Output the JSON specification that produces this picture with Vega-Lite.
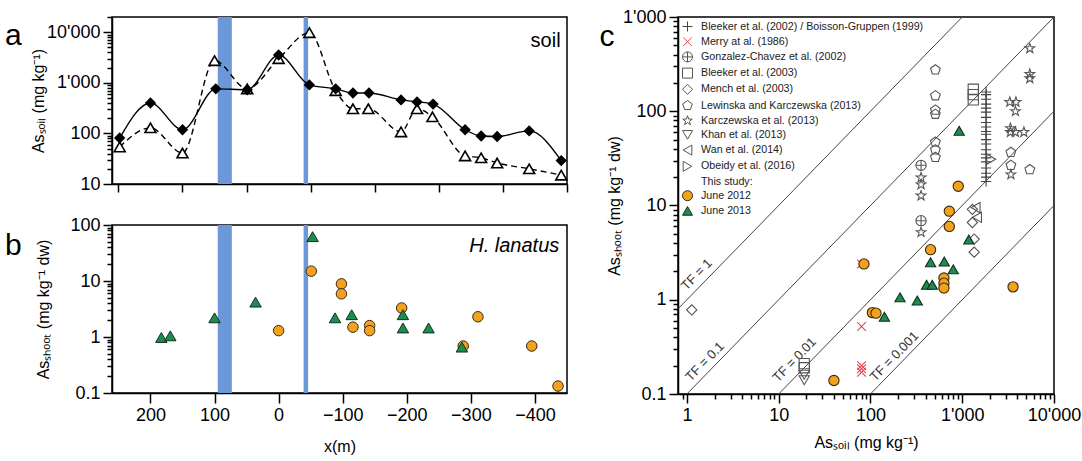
{
"$schema": "https://vega.github.io/schema/vega-lite/v6.json",
"background": "white",
"padding": {"left": 4, "top": 7, "right": 5, "bottom": 3},
"config": {
  "font": "Liberation Sans",
  "view": {"stroke": "black", "strokeWidth": 1.5},
  "axis": {"domainColor": "black", "domainWidth": 1.5, "tickColor": "black", "tickWidth": 1.5, "labelColor": "black", "labelFontSize": 18, "labelFont": "Liberation Sans", "titleFont": "Liberation Sans", "titleFontSize": 16, "titleFontWeight": "normal", "titleColor": "black", "grid": false, "labelOverlap": false, "labelFlush": false, "labelPadding": 3},
  "legend": {"orient": "top-left", "offset": 4, "padding": 0, "labelFontSize": 10.7, "labelFont": "Liberation Sans", "labelColor": "#222", "symbolSize": 100, "rowPadding": 1.2, "labelOffset": 8, "symbolStrokeWidth": 1, "labelLimit": 400}
},
"datasets": {
  "bands": [{"from": 95, "to": 73}, {"from": -39, "to": -46}],
  "soil": [
    {"x": 248, "as": 81, "series": "2012"}, {"x": 200, "as": 400, "series": "2012"}, {"x": 150, "as": 118, "series": "2012"}, {"x": 98, "as": 760, "series": "2012"}, {"x": 49, "as": 730, "series": "2012"}, {"x": 0, "as": 3550, "series": "2012"}, {"x": -48, "as": 910, "series": "2012"}, {"x": -89, "as": 760, "series": "2012"}, {"x": -116, "as": 630, "series": "2012"}, {"x": -141, "as": 630, "series": "2012"}, {"x": -191, "as": 460, "series": "2012"}, {"x": -216, "as": 420, "series": "2012"}, {"x": -241, "as": 380, "series": "2012"}, {"x": -291, "as": 118, "series": "2012"}, {"x": -316, "as": 89, "series": "2012"}, {"x": -341, "as": 87, "series": "2012"}, {"x": -391, "as": 112, "series": "2012"}, {"x": -441, "as": 29, "series": "2012"},
    {"x": 248, "as": 54, "series": "2013"}, {"x": 200, "as": 129, "series": "2013"}, {"x": 150, "as": 41, "series": "2013"}, {"x": 100, "as": 2750, "series": "2013"}, {"x": 49, "as": 760, "series": "2013"}, {"x": 0, "as": 3000, "series": "2013"}, {"x": -48, "as": 9800, "series": "2013"}, {"x": -89, "as": 700, "series": "2013"}, {"x": -116, "as": 307, "series": "2013"}, {"x": -140, "as": 307, "series": "2013"}, {"x": -191, "as": 107, "series": "2013"}, {"x": -216, "as": 307, "series": "2013"}, {"x": -240, "as": 213, "series": "2013"}, {"x": -291, "as": 36, "series": "2013"}, {"x": -316, "as": 33, "series": "2013"}, {"x": -341, "as": 26, "series": "2013"}, {"x": -391, "as": 20, "series": "2013"}, {"x": -441, "as": 15, "series": "2013"}
  ],
  "shoot": [
    {"x": 0, "as": 1.3, "yr": "2012"}, {"x": -51, "as": 15, "yr": "2012"}, {"x": -98, "as": 8.9, "yr": "2012"}, {"x": -98, "as": 5.9, "yr": "2012"}, {"x": -116, "as": 1.5, "yr": "2012"}, {"x": -142, "as": 1.6, "yr": "2012"}, {"x": -142, "as": 1.3, "yr": "2012"}, {"x": -192, "as": 3.3, "yr": "2012"}, {"x": -288, "as": 0.69, "yr": "2012"}, {"x": -311, "as": 2.3, "yr": "2012"}, {"x": -395, "as": 0.69, "yr": "2012"}, {"x": -436, "as": 0.133, "yr": "2012"},
    {"x": 183, "as": 0.98, "yr": "2013"}, {"x": 169, "as": 1.05, "yr": "2013"}, {"x": 100, "as": 2.2, "yr": "2013"}, {"x": 36, "as": 4.2, "yr": "2013"}, {"x": -53, "as": 62, "yr": "2013"}, {"x": -88, "as": 2.2, "yr": "2013"}, {"x": -114, "as": 2.5, "yr": "2013"}, {"x": -194, "as": 2.5, "yr": "2013"}, {"x": -194, "as": 1.45, "yr": "2013"}, {"x": -234, "as": 1.45, "yr": "2013"}, {"x": -286, "as": 0.66, "yr": "2013"}
  ],
  "tflines": [
    {"tf": "1", "x": 0.8, "y": 0.8}, {"tf": "1", "x": 1000, "y": 1000},
    {"tf": "0.1", "x": 1, "y": 0.1}, {"tf": "0.1", "x": 10000, "y": 1000},
    {"tf": "0.01", "x": 10, "y": 0.1}, {"tf": "0.01", "x": 10000, "y": 100},
    {"tf": "0.001", "x": 100, "y": 0.1}, {"tf": "0.001", "x": 10000, "y": 10}
  ],
  "tflabels": [
    {"label": "TF = 1", "x": 1.28, "y": 1.85},
    {"label": "TF = 0.1", "x": 1.57, "y": 0.22},
    {"label": "TF = 0.01", "x": 14.9, "y": 0.23},
    {"label": "TF = 0.001", "x": 182, "y": 0.25}
  ],
  "tf": [
    {"src": "Bleeker et al. (2002) / Boisson-Gruppen (1999)", "soil": 1820, "shoot": 160},
    {"src": "Bleeker et al. (2002) / Boisson-Gruppen (1999)", "soil": 1820, "shoot": 150},
    {"src": "Bleeker et al. (2002) / Boisson-Gruppen (1999)", "soil": 1820, "shoot": 134},
    {"src": "Bleeker et al. (2002) / Boisson-Gruppen (1999)", "soil": 1820, "shoot": 119},
    {"src": "Bleeker et al. (2002) / Boisson-Gruppen (1999)", "soil": 1820, "shoot": 108},
    {"src": "Bleeker et al. (2002) / Boisson-Gruppen (1999)", "soil": 1820, "shoot": 98},
    {"src": "Bleeker et al. (2002) / Boisson-Gruppen (1999)", "soil": 1820, "shoot": 86},
    {"src": "Bleeker et al. (2002) / Boisson-Gruppen (1999)", "soil": 1820, "shoot": 76},
    {"src": "Bleeker et al. (2002) / Boisson-Gruppen (1999)", "soil": 1820, "shoot": 68},
    {"src": "Bleeker et al. (2002) / Boisson-Gruppen (1999)", "soil": 1820, "shoot": 61},
    {"src": "Bleeker et al. (2002) / Boisson-Gruppen (1999)", "soil": 1820, "shoot": 57},
    {"src": "Bleeker et al. (2002) / Boisson-Gruppen (1999)", "soil": 1820, "shoot": 50},
    {"src": "Bleeker et al. (2002) / Boisson-Gruppen (1999)", "soil": 1820, "shoot": 45},
    {"src": "Bleeker et al. (2002) / Boisson-Gruppen (1999)", "soil": 1820, "shoot": 39},
    {"src": "Bleeker et al. (2002) / Boisson-Gruppen (1999)", "soil": 1820, "shoot": 35},
    {"src": "Bleeker et al. (2002) / Boisson-Gruppen (1999)", "soil": 1820, "shoot": 32},
    {"src": "Bleeker et al. (2002) / Boisson-Gruppen (1999)", "soil": 1820, "shoot": 29},
    {"src": "Bleeker et al. (2002) / Boisson-Gruppen (1999)", "soil": 1820, "shoot": 25},
    {"src": "Bleeker et al. (2002) / Boisson-Gruppen (1999)", "soil": 1820, "shoot": 22},
    {"src": "Bleeker et al. (2002) / Boisson-Gruppen (1999)", "soil": 1820, "shoot": 20},
    {"src": "Bleeker et al. (2002) / Boisson-Gruppen (1999)", "soil": 1820, "shoot": 18},
    {"src": "Merry at al. (1986)", "soil": 80, "shoot": 2.4},
    {"src": "Merry at al. (1986)", "soil": 80, "shoot": 0.52},
    {"src": "Merry at al. (1986)", "soil": 80, "shoot": 0.2},
    {"src": "Merry at al. (1986)", "soil": 80, "shoot": 0.185},
    {"src": "Merry at al. (1986)", "soil": 80, "shoot": 0.17},
    {"src": "Gonzalez-Chavez et al. (2002)", "soil": 356, "shoot": 26.7},
    {"src": "Gonzalez-Chavez et al. (2002)", "soil": 356, "shoot": 6.9},
    {"src": "Bleeker et al. (2003)", "soil": 1320, "shoot": 171},
    {"src": "Bleeker et al. (2003)", "soil": 1320, "shoot": 150},
    {"src": "Bleeker et al. (2003)", "soil": 1320, "shoot": 132},
    {"src": "Bleeker et al. (2003)", "soil": 19, "shoot": 0.21},
    {"src": "Bleeker et al. (2003)", "soil": 19, "shoot": 0.19},
    {"src": "Mench et al. (2003)", "soil": 1.13, "shoot": 0.78},
    {"src": "Mench et al. (2003)", "soil": 1290, "shoot": 9.1},
    {"src": "Mench et al. (2003)", "soil": 1290, "shoot": 6.6},
    {"src": "Mench et al. (2003)", "soil": 1350, "shoot": 4.4},
    {"src": "Mench et al. (2003)", "soil": 1350, "shoot": 3.2},
    {"src": "Lewinska and Karczewska (2013)", "soil": 510, "shoot": 275},
    {"src": "Lewinska and Karczewska (2013)", "soil": 510, "shoot": 146},
    {"src": "Lewinska and Karczewska (2013)", "soil": 510, "shoot": 103},
    {"src": "Lewinska and Karczewska (2013)", "soil": 510, "shoot": 93},
    {"src": "Lewinska and Karczewska (2013)", "soil": 510, "shoot": 47},
    {"src": "Lewinska and Karczewska (2013)", "soil": 510, "shoot": 39},
    {"src": "Lewinska and Karczewska (2013)", "soil": 510, "shoot": 32.4},
    {"src": "Lewinska and Karczewska (2013)", "soil": 3390, "shoot": 36.6},
    {"src": "Lewinska and Karczewska (2013)", "soil": 3390, "shoot": 26.7},
    {"src": "Lewinska and Karczewska (2013)", "soil": 5450, "shoot": 24},
    {"src": "Karczewska et al. (2013)", "soil": 5450, "shoot": 464},
    {"src": "Karczewska et al. (2013)", "soil": 5450, "shoot": 248},
    {"src": "Karczewska et al. (2013)", "soil": 5450, "shoot": 223},
    {"src": "Karczewska et al. (2013)", "soil": 3300, "shoot": 125},
    {"src": "Karczewska et al. (2013)", "soil": 3850, "shoot": 125},
    {"src": "Karczewska et al. (2013)", "soil": 3800, "shoot": 100},
    {"src": "Karczewska et al. (2013)", "soil": 3350, "shoot": 66},
    {"src": "Karczewska et al. (2013)", "soil": 3350, "shoot": 60},
    {"src": "Karczewska et al. (2013)", "soil": 3800, "shoot": 60},
    {"src": "Karczewska et al. (2013)", "soil": 4700, "shoot": 60},
    {"src": "Karczewska et al. (2013)", "soil": 3390, "shoot": 21.3},
    {"src": "Karczewska et al. (2013)", "soil": 356, "shoot": 19.8},
    {"src": "Karczewska et al. (2013)", "soil": 356, "shoot": 16.7},
    {"src": "Karczewska et al. (2013)", "soil": 356, "shoot": 12.7},
    {"src": "Karczewska et al. (2013)", "soil": 356, "shoot": 5.2},
    {"src": "Khan et al. (2013)", "soil": 19, "shoot": 0.16},
    {"src": "Khan et al. (2013)", "soil": 19, "shoot": 0.14},
    {"src": "Wan et al. (2014)", "soil": 1400, "shoot": 9.5},
    {"src": "Wan et al. (2014)", "soil": 1450, "shoot": 7.5},
    {"src": "Obeidy et al. (2016)", "soil": 2070, "shoot": 31},
    {"src": "June 2012", "soil": 905, "shoot": 16},
    {"src": "June 2012", "soil": 723, "shoot": 8.7},
    {"src": "June 2012", "soil": 723, "shoot": 6.0},
    {"src": "June 2012", "soil": 452, "shoot": 3.4},
    {"src": "June 2012", "soil": 632, "shoot": 1.7},
    {"src": "June 2012", "soil": 632, "shoot": 1.5},
    {"src": "June 2012", "soil": 632, "shoot": 1.33},
    {"src": "June 2012", "soil": 3580, "shoot": 1.37},
    {"src": "June 2012", "soil": 85, "shoot": 2.4},
    {"src": "June 2012", "soil": 105, "shoot": 0.73},
    {"src": "June 2012", "soil": 115, "shoot": 0.72},
    {"src": "June 2012", "soil": 40, "shoot": 0.139},
    {"src": "June 2013", "soil": 927, "shoot": 62},
    {"src": "June 2013", "soil": 1180, "shoot": 4.35},
    {"src": "June 2013", "soil": 452, "shoot": 2.5},
    {"src": "June 2013", "soil": 637, "shoot": 2.55},
    {"src": "June 2013", "soil": 798, "shoot": 2.1},
    {"src": "June 2013", "soil": 409, "shoot": 1.44},
    {"src": "June 2013", "soil": 472, "shoot": 1.44},
    {"src": "June 2013", "soil": 210, "shoot": 1.06},
    {"src": "June 2013", "soil": 324, "shoot": 0.98},
    {"src": "June 2013", "soil": 142, "shoot": 0.66}
  ]
},
"resolve": {"scale": {"x": "independent", "y": "independent", "shape": "independent", "fill": "independent", "stroke": "independent"}, "legend": {"shape": "independent", "fill": "independent", "stroke": "independent"}},
"spacing": 27,
"hconcat": [
  {
    "spacing": 21,
    "resolve": {"scale": {"x": "independent", "y": "independent"}, "axis": {"x": "independent", "y": "independent"}},
    "vconcat": [
      {
        "width": 455, "height": 167,
        "layer": [
          {"data": {"name": "bands"}, "mark": {"type": "rect", "color": "#6C98DA", "opacity": 1},
           "encoding": {
             "x": {"field": "from", "type": "quantitative", "scale": {"domain": [260, -450], "nice": false, "zero": false},
                   "axis": {"title": null, "values": [250, 200, 150, 100, 50, 0, -50, -100, -150, -200, -250, -300, -350, -400, -450], "labels": false, "tickSize": 8}},
             "x2": {"field": "to"}}},
          {"data": {"name": "soil"}, "transform": [{"filter": "datum.series == '2013'"}],
           "mark": {"type": "line", "interpolate": "monotone", "color": "black", "strokeWidth": 1.4, "strokeDash": [6, 4]},
           "encoding": {"x": {"field": "x", "type": "quantitative"},
             "y": {"field": "as", "type": "quantitative", "scale": {"type": "log", "domain": [10, 20000], "nice": false},
                   "axis": {"title": "Asₛₒᵢₗ (mg kg⁻¹)", "titlePadding": 0, "values": [10, 20, 30, 40, 50, 60, 70, 80, 90, 100, 200, 300, 400, 500, 600, 700, 800, 900, 1000, 2000, 3000, 4000, 5000, 6000, 7000, 8000, 9000, 10000, 20000],
                            "labelExpr": "indexof([10,100,1000,10000], datum.value) >= 0 ? replace(format(datum.value, ','), ',', \"'\") : ''",
                            "tickSize": {"condition": {"test": "indexof([10,100,1000,10000], datum.value) >= 0", "value": 9}, "value": 5}}}}},
          {"data": {"name": "soil"}, "transform": [{"filter": "datum.series == '2012'"}],
           "mark": {"type": "line", "interpolate": "monotone", "color": "black", "strokeWidth": 1.4},
           "encoding": {"x": {"field": "x", "type": "quantitative"}, "y": {"field": "as", "type": "quantitative"}}},
          {"data": {"name": "soil"}, "transform": [{"filter": "datum.series == '2013'"}],
           "mark": {"type": "point", "shape": "triangle-up", "size": 120, "fill": "white", "stroke": "black", "strokeWidth": 1.6, "opacity": 1, "filled": true, "color": "white"},
           "encoding": {"x": {"field": "x", "type": "quantitative"}, "y": {"field": "as", "type": "quantitative"}}},
          {"data": {"name": "soil"}, "transform": [{"filter": "datum.series == '2012'"}],
           "mark": {"type": "point", "shape": "diamond", "size": 130, "filled": true, "color": "black", "opacity": 1},
           "encoding": {"x": {"field": "x", "type": "quantitative"}, "y": {"field": "as", "type": "quantitative"}}},
          {"data": {"values": [{"t": ""}]}, "mark": {"type": "point", "size": 1, "opacity": 0},
           "encoding": {"x": {"datum": 0}, "y": {"datum": 27500}}},
          {"data": {"values": [{"t": "soil"}]}, "mark": {"type": "text", "align": "right", "baseline": "alphabetic", "fontSize": 20, "color": "black"},
           "encoding": {"text": {"field": "t"}, "x": {"datum": -440}, "y": {"datum": 5100}}},
          {"data": {"values": [{"t": "a"}]}, "mark": {"type": "text", "align": "center", "baseline": "alphabetic", "fontSize": 30, "color": "black"},
           "encoding": {"text": {"field": "t"}, "x": {"datum": 414}, "y": {"datum": 5600}}}
        ]
      },
      {
        "width": 455, "height": 168,
        "layer": [
          {"data": {"name": "bands"}, "mark": {"type": "rect", "color": "#6C98DA", "opacity": 1},
           "encoding": {
             "x": {"field": "from", "type": "quantitative", "scale": {"domain": [260, -450], "nice": false, "zero": false},
                   "axis": {"title": "x(m)", "titlePadding": 14, "values": [200, 100, 0, -100, -200, -300, -400], "format": "d", "tickSize": 10}},
             "x2": {"field": "to"}}},
          {"data": {"name": "shoot"}, "transform": [{"filter": "datum.yr == '2012'"}],
           "mark": {"type": "point", "shape": "circle", "size": 110, "filled": true, "color": "#F2A21F", "stroke": "#3a2a10", "strokeWidth": 1, "opacity": 1},
           "encoding": {
             "x": {"field": "x", "type": "quantitative"},
             "y": {"field": "as", "type": "quantitative", "scale": {"type": "log", "domain": [0.1, 100], "nice": false},
                   "axis": {"title": "Asₛₕₒₒₜ (mg kg⁻¹ dw)", "titlePadding": 18, "values": [0.1, 0.2, 0.3, 0.4, 0.5, 0.6, 0.7, 0.8, 0.9, 1, 2, 3, 4, 5, 6, 7, 8, 9, 10, 20, 30, 40, 50, 60, 70, 80, 90, 100],
                            "labelExpr": "indexof([0.1,1,10,100], datum.value) >= 0 ? '' + datum.value : ''",
                            "tickSize": {"condition": {"test": "indexof([0.1,1,10,100], datum.value) >= 0", "value": 9}, "value": 5}}}}},
          {"data": {"name": "shoot"}, "transform": [{"filter": "datum.yr == '2013'"}],
           "mark": {"type": "point", "shape": "triangle-up", "size": 130, "filled": true, "color": "#1E8C50", "stroke": "#10301c", "strokeWidth": 1, "opacity": 1},
           "encoding": {"x": {"field": "x", "type": "quantitative"}, "y": {"field": "as", "type": "quantitative"}}},
          {"data": {"values": [{"t": "H. lanatus"}]}, "mark": {"type": "text", "align": "right", "baseline": "alphabetic", "fontSize": 20, "fontStyle": "italic", "color": "black"},
           "encoding": {"text": {"field": "t"}, "x": {"datum": -438}, "y": {"datum": 33}}},
          {"data": {"values": [{"t": "b"}]}, "mark": {"type": "text", "align": "center", "baseline": "alphabetic", "fontSize": 30, "color": "black"},
           "encoding": {"text": {"field": "t"}, "x": {"datum": 414}, "y": {"datum": 29}}}
        ]
      }
    ]
  },
  {
    "width": 376, "height": 377,
    "layer": [
      {"data": {"name": "tflines"}, "mark": {"type": "line", "color": "#444", "strokeWidth": 1, "clip": true},
       "encoding": {
         "x": {"field": "x", "type": "quantitative", "scale": {"type": "log", "domain": [0.8, 10000], "nice": false},
               "axis": {"title": "Asₛₒᵢₗ (mg kg⁻¹)", "titlePadding": 10, "values": [0.9, 1, 2, 3, 4, 5, 6, 7, 8, 9, 10, 20, 30, 40, 50, 60, 70, 80, 90, 100, 200, 300, 400, 500, 600, 700, 800, 900, 1000, 2000, 3000, 4000, 5000, 6000, 7000, 8000, 9000, 10000],
                        "labelExpr": "indexof([1,10,100,1000,10000], datum.value) >= 0 ? replace(format(datum.value, ','), ',', \"'\") : ''",
                        "tickSize": {"condition": {"test": "indexof([1,10,100,1000,10000], datum.value) >= 0", "value": 9}, "value": 5}}},
         "y": {"field": "y", "type": "quantitative", "scale": {"type": "log", "domain": [0.1, 1000], "nice": false},
               "axis": {"title": "Asₛₕₒₒₜ (mg kg⁻¹ dw)", "titlePadding": 0, "values": [0.1, 0.2, 0.3, 0.4, 0.5, 0.6, 0.7, 0.8, 0.9, 1, 2, 3, 4, 5, 6, 7, 8, 9, 10, 20, 30, 40, 50, 60, 70, 80, 90, 100, 200, 300, 400, 500, 600, 700, 800, 900, 1000],
                        "labelExpr": "indexof([0.1,1,10,100,1000], datum.value) >= 0 ? replace(format(datum.value, ','), ',', \"'\") : ''",
                        "tickSize": {"condition": {"test": "indexof([0.1,1,10,100,1000], datum.value) >= 0", "value": 9}, "value": 5}}},
         "detail": {"field": "tf", "type": "nominal"}}},
      {"data": {"name": "tflabels"}, "mark": {"type": "text", "angle": -46, "align": "center", "baseline": "middle", "fontSize": 13, "color": "#333"},
       "encoding": {"text": {"field": "label"}, "x": {"field": "x", "type": "quantitative"}, "y": {"field": "y", "type": "quantitative"}}},
      {"data": {"name": "tf"}, "mark": {"type": "point", "size": 105, "strokeWidth": 1.1, "opacity": 1},
       "encoding": {
         "x": {"field": "soil", "type": "quantitative"},
         "y": {"field": "shoot", "type": "quantitative"},
         "shape": {"field": "src", "type": "nominal",
           "scale": {"domain": ["Bleeker et al. (2002) / Boisson-Gruppen (1999)", "Merry at al. (1986)", "Gonzalez-Chavez et al. (2002)", "Bleeker et al. (2003)", "Mench et al. (2003)", "Lewinska and Karczewska (2013)", "Karczewska et al. (2013)", "Khan et al. (2013)", "Wan et al. (2014)", "Obeidy et al. (2016)", "This study:", "June 2012", "June 2013"],
                     "range": ["M-1,0L1,0M0,-1L0,1", "M-0.85,-0.85L0.85,0.85M-0.85,0.85L0.85,-0.85", "M-1,0A1,1,0,1,1,1,0A1,1,0,1,1,-1,0ZM-1,0L1,0M0,-1L0,1", "square", "diamond", "M0,-1L0.951,-0.309L0.588,0.809L-0.588,0.809L-0.951,-0.309Z", "M0,-1L0.235,-0.324L0.951,-0.309L0.38,0.124L0.588,0.809L0,0.4L-0.588,0.809L-0.38,0.124L-0.951,-0.309L-0.235,-0.324Z", "triangle-down", "triangle-left", "triangle-right", "M0,0", "circle", "triangle-up"]},
           "legend": {"title": null}},
         "fill": {"field": "src", "type": "nominal",
           "scale": {"domain": ["Bleeker et al. (2002) / Boisson-Gruppen (1999)", "Merry at al. (1986)", "Gonzalez-Chavez et al. (2002)", "Bleeker et al. (2003)", "Mench et al. (2003)", "Lewinska and Karczewska (2013)", "Karczewska et al. (2013)", "Khan et al. (2013)", "Wan et al. (2014)", "Obeidy et al. (2016)", "This study:", "June 2012", "June 2013"],
                     "range": ["transparent", "transparent", "transparent", "transparent", "transparent", "transparent", "transparent", "transparent", "transparent", "transparent", "transparent", "#F2A21F", "#1E8C50"]},
           "legend": {"title": null}},
         "stroke": {"field": "src", "type": "nominal",
           "scale": {"domain": ["Bleeker et al. (2002) / Boisson-Gruppen (1999)", "Merry at al. (1986)", "Gonzalez-Chavez et al. (2002)", "Bleeker et al. (2003)", "Mench et al. (2003)", "Lewinska and Karczewska (2013)", "Karczewska et al. (2013)", "Khan et al. (2013)", "Wan et al. (2014)", "Obeidy et al. (2016)", "This study:", "June 2012", "June 2013"],
                     "range": ["#444", "#E8474C", "#555", "#555", "#555", "#555", "#555", "#555", "#555", "#555", "transparent", "#3a2a10", "#10301c"]},
           "legend": {"title": null}}
       }},
      {"data": {"values": [{"t": "c"}]}, "mark": {"type": "text", "align": "center", "baseline": "alphabetic", "fontSize": 30, "color": "black"},
       "encoding": {"text": {"field": "t"}, "x": {"datum": 0.135}, "y": {"datum": 491}}}
    ]
  }
]
}
